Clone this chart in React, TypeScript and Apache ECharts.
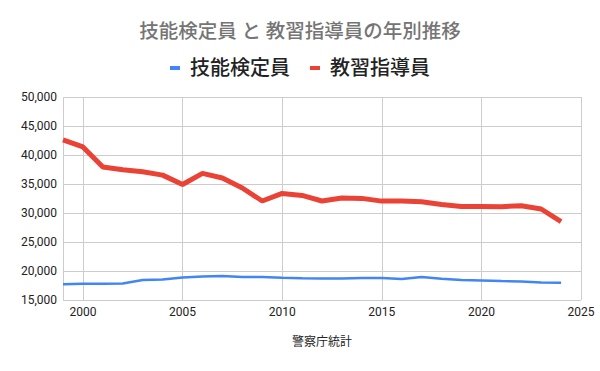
import React, { useEffect, useRef } from "react";
import * as echarts from "echarts";

const years: number[] = [
  1999, 2000, 2001, 2002, 2003, 2004, 2005, 2006, 2007, 2008, 2009, 2010, 2011,
  2012, 2013, 2014, 2015, 2016, 2017, 2018, 2019, 2020, 2021, 2022, 2023, 2024,
];
const examiners: number[] = [
  17700, 17800, 17800, 17850, 18430, 18550, 18880, 19070, 19130, 18950, 18950,
  18830, 18750, 18720, 18720, 18780, 18780, 18610, 18950, 18660, 18430, 18370,
  18260, 18200, 18030, 17960,
];
const instructors: number[] = [
  42600, 41390, 37920, 37450, 37100, 36530, 34920, 36830, 36030, 34310, 32070,
  33380, 33030, 32070, 32590, 32520, 32050, 32070, 31950, 31480, 31140, 31140,
  31090, 31260, 30690, 28500,
];
const seriesNames: string[] = ["技能検定員", "教習指導員"];
const titleText = "技能検定員 と 教習指導員の年別推移";
const xAxisName = "警察庁統計";

export default function App() {
  const ref = useRef<HTMLDivElement>(null);
  useEffect(() => {
    if (!ref.current) return;
    const chart = echarts.init(ref.current, undefined, { renderer: "svg" });
    const font = "Roboto, Arial, 'Noto Sans CJK JP', sans-serif";
    chart.setOption({
      animation: false,
      backgroundColor: "#ffffff",
      textStyle: { fontFamily: font },
      title: {
        text: titleText,
        left: "center",
        top: 17,
        textStyle: {
          color: "#757575",
          fontSize: 19.5,
          fontWeight: 500,
          fontFamily: font,
        },
      },
      legend: {
        top: 53,
        left: "center",
        itemWidth: 10,
        itemHeight: 4,
        itemGap: 20,
        icon: "rect",
        textStyle: {
          color: "#222222",
          fontSize: 20,
          fontWeight: 500,
          fontFamily: font,
          padding: [0, 0, 0, 5],
        },
        data: seriesNames,
      },
      grid: { left: 63, right: 19, top: 97, bottom: 71 },
      xAxis: {
        type: "value",
        min: 1999,
        max: 2025,
        splitNumber: 5,
        name: xAxisName,
        nameLocation: "middle",
        nameGap: 36,
        nameTextStyle: { color: "#222222", fontSize: 12, fontFamily: font },
        axisLine: { show: false },
        axisTick: { show: false },
        axisLabel: {
          color: "#222222",
          fontSize: 12,
          margin: 6,
          formatter: (v: number) => (v % 5 === 0 ? String(v) : ""),
        },
        splitLine: { show: true, lineStyle: { color: "#cccccc", width: 1 } },
      },
      yAxis: {
        type: "value",
        min: 15000,
        max: 50000,
        interval: 5000,
        axisLine: { show: false },
        axisTick: { show: false },
        axisLabel: {
          color: "#222222",
          fontSize: 12,
          margin: 6,
          formatter: (v: number) => v.toLocaleString("en-US"),
        },
        splitLine: { show: true, lineStyle: { color: "#cccccc", width: 1 } },
      },
      series: [
        {
          name: seriesNames[0],
          type: "line",
          data: years.map((y, i) => [y, examiners[i]]),
          showSymbol: false,
          symbol: "none",
          color: "#4285f4",
          lineStyle: { color: "#4285f4", width: 2.5 },
        },
        {
          name: seriesNames[1],
          type: "line",
          data: years.map((y, i) => [y, instructors[i]]),
          showSymbol: false,
          symbol: "none",
          color: "#ea4335",
          lineStyle: { color: "#ea4335", width: 5 },
        },
      ],
    });
    return () => chart.dispose();
  }, []);
  return <div ref={ref} style={{ width: 600, height: 371, position: "absolute", left: 0, top: 0 }} />;
}
